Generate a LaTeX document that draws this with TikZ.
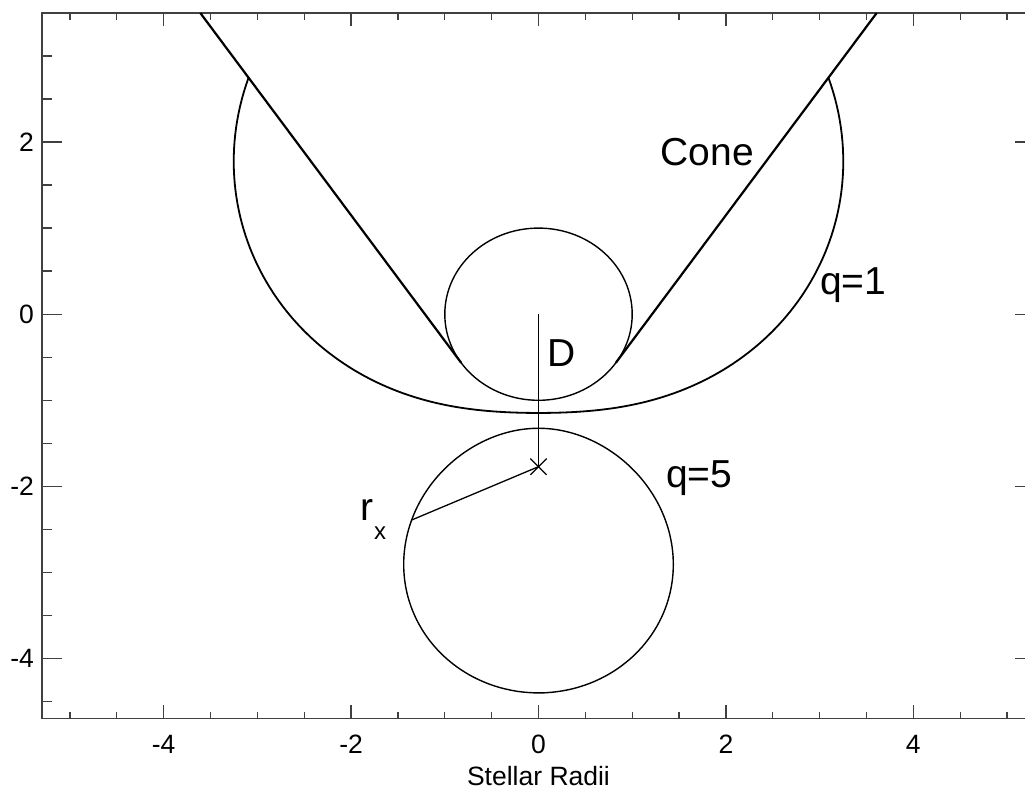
\documentclass[tikz,border=0pt]{standalone}
\usepackage{fontspec}
\setmainfont{Liberation Sans}
\usetikzlibrary{shapes.misc}
\begin{document}
\begin{tikzpicture}[x=93.7pt,y=86.1pt,
  axisline/.style={line width=1.3pt, black!75},
  curve/.style={line width=1.4pt, black},
  conel/.style={line width=2.2pt, black},
  lbl/.style={font=\fontsize{39}{44}\selectfont, inner sep=0pt},
  ticklbl/.style={font=\fontsize{26.5}{30}\selectfont, inner sep=0pt},
  declare function={
    DD=1.771;
    kone=0.433;
    kfive=2.165;
    Bq(\t,\k)=1+2*\k*DD*sin(\t);
    rone(\t)=(Bq(\t,kone)+sqrt(Bq(\t,kone)^2+4*(1-kone)*kone*DD^2))/(2*(1-kone));
    Thfive=acos((1+sqrt(4*(kfive-1)*kfive*DD^2))/(2*kfive*DD));
    thfive(\s)=-90+Thfive*sin(\s);
    discfive(\s)=max(Bq(thfive(\s),kfive)^2-4*(kfive-1)*kfive*DD^2,0);
    rfive(\s)=(-Bq(thfive(\s),kfive)+sign(cos(\s))*sqrt(discfive(\s)))/(2*(kfive-1));
  }]
\useasboundingbox (-5.7471,-5.5377) rectangle (5.1921,3.6492);
% frame
\draw[axisline] (-5.3,-4.693) rectangle (5.3,3.498);
% x ticks
\foreach \x in {-5,-4.5,...,5.01} {
  \draw[axisline] (\x,-4.693) -- ++(0,6.7pt);
  \draw[axisline] (\x,3.498) -- ++(0,-6.7pt);
}
\foreach \x in {-4,-2,0,2,4} {
  \draw[axisline] (\x,-4.693) -- ++(0,13.3pt);
  \draw[axisline] (\x,3.498) -- ++(0,-13.3pt);
  \node[ticklbl, anchor=north] (xl\x) at (\x,-4.887) {\x};
}
% y ticks
\foreach \y in {-4.5,-4,...,3.01} {
  \draw[axisline] (-5.3,\y) -- ++(10pt,0);
  \draw[axisline] (5.3,\y) -- ++(-10pt,0);
}
\foreach \y in {-4,-2,0,2} {
  \draw[axisline] (-5.3,\y) -- ++(20pt,0);
  \draw[axisline] (5.3,\y) -- ++(-20pt,0);
  \node[ticklbl, anchor=east] (yl\y) at (-5.384,\y) {\y};
}
\node[ticklbl, anchor=north] (xtitle) at (0,-5.247) {Stellar Radii};
% key points
\coordinate (star) at (0,0);
\coordinate (xsrc) at (0,-1.771);
\coordinate (tanL) at (214.38:1);
\coordinate (tanR) at (-34.38:1);
\coordinate (topL) at (-3.609,3.498);
\coordinate (topR) at (3.609,3.498);
\coordinate (rxend) at (-1.353,-2.39);
% star
\draw[curve] (star) circle [x radius=1, y radius=1];
% cone
\draw[conel] (tanL) -- (topL);
\draw[conel] (tanR) -- (topR);
% q=1 surface
\draw[curve, line width=1.8pt] plot[domain=138.36:401.64, samples=240, variable=\t]
  ({rone(\t)*cos(\t)}, {rone(\t)*sin(\t)});
% q=5 surface
\draw[curve] plot[domain=-90:270, samples=240, variable=\s]
  ({rfive(\s)*cos(thfive(\s))}, {rfive(\s)*sin(thfive(\s))}) -- cycle;
% D and r_x
\draw[curve, line width=1.3pt] (star) -- (xsrc);
\draw[curve, line width=1.3pt] (xsrc) -- (rxend);
\node[cross out, draw, line width=1.3pt, minimum size=15pt, inner sep=0pt] (xmark) at (xsrc) {};
% labels
\node[lbl, anchor=center] (cone) at (1.80,1.884) {Cone};
\node[lbl, anchor=base west] (q1) at (3.004,0.231) {q=1};
\node[lbl, anchor=base west] (dlab) at (0.091,-0.610) {D};
\node[lbl, anchor=base west] (q5) at (1.36,-2.007) {q=5};
\node[lbl, anchor=base west] (rx) at (-1.905,-2.398) {r\kern1pt\raisebox{-18.6pt}{\fontsize{24}{28}\selectfont x}};
\end{tikzpicture}
\end{document}
